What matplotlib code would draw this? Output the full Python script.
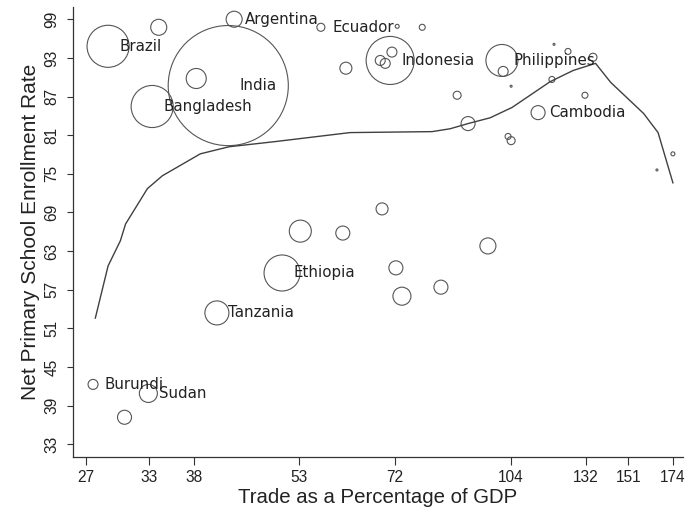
import matplotlib
matplotlib.use("Agg")
import matplotlib.pyplot as plt
import numpy as np

# trade (% of GDP), net primary enrollment (%), population (millions, approx.)
trade = [28.95, 34.0, 43.2, 56.9, 42.4, 38.3, 33.3, 61.6, 53.3, 61.0,
         72.5, 78.5, 70.9, 68.7, 69.8, 71.3, 101.1, 101.5, 104.1, 119.3,
         124.7, 135.0, 118.5, 131.6, 87.7, 113.4, 90.8, 103.1, 104.1, 174.0,
         165.4, 69.1, 50.3, 72.2, 73.6, 83.3, 96.7, 40.9, 27.6, 32.9, 30.5]
enroll = [94.8, 97.75, 99.0, 97.75, 88.7, 89.8, 85.45, 91.4, 66.1, 65.8,
          97.9, 97.75, 92.6, 92.6, 92.15, 93.9, 92.6, 90.9, 88.6, 95.1,
          94.0, 93.1, 89.65, 87.2, 87.2, 84.5, 82.8, 80.8, 80.15, 78.1,
          75.6, 69.55, 59.6, 60.4, 56.0, 57.4, 63.8, 53.4, 42.3, 40.9, 37.2]
pop = [135, 19.6, 19.6, 4.9, 1100, 30.6, 135, 11, 37, 15,
       1.2, 2.75, 176, 7.6, 7.6, 7.6, 78, 7.6, 0.3, 0.3,
       2.75, 4.9, 2.75, 2.75, 4.9, 15, 15, 2.75, 4.9, 1.2,
       0.3, 11, 99, 15, 24.8, 15, 19.6, 44, 7.6, 24.8, 15]
names = ["Brazil", "", "Argentina", "Ecuador", "India", "", "Bangladesh", "", "", "",
         "", "", "Indonesia", "", "", "", "Philippines", "", "", "",
         "", "", "", "", "", "Cambodia", "", "", "", "",
         "", "", "Ethiopia", "", "", "", "", "Tanzania", "Burundi", "Sudan", ""]

# smoothed fit line
fit_x = [27.8, 28.95, 30.1, 30.6, 32.8, 34.4, 38.8, 42.5, 49.2, 62.4, 81.0,
         85.8, 90.8, 97.4, 104.4, 117.8, 126.8, 136.1, 142.8, 158.6, 166.0, 174.0]
fit_y = [52.6, 60.7, 64.6, 67.2, 72.7, 74.7, 78.1, 79.2, 80.0, 81.4, 81.55,
         82.0, 82.8, 83.7, 85.3, 89.3, 91.05, 92.15, 89.2, 84.35, 81.4, 73.6]

xticks = [27, 33, 38, 53, 72, 104, 132, 151, 174]
yticks = [33, 39, 45, 51, 57, 63, 69, 75, 81, 87, 93, 99]

plt.rcParams['font.family'] = ['Liberation Sans', 'DejaVu Sans']

fig = plt.figure(figsize=(6.87, 5.15), dpi=100)
ax = fig.add_axes([0.1063, 0.1135, 0.8877, 0.8729])

ax.scatter(trade, enroll, s=np.array(pop) * 6.8, facecolors='none',
           edgecolors='#555555', linewidths=0.8)
ax.plot(fit_x, fit_y, color='#404040', lw=1.0)

for x, y, n in zip(trade, enroll, names):
    if n:
        ax.annotate(n, (x, y), xytext=(8, 0), textcoords='offset points',
                    ha='left', va='center', fontsize=10.8,
                    family='DejaVu Sans', color='#222222')

ax.set_xscale('log')
ax.set_xlim(25.9, 179.6)
ax.set_ylim(31.1, 100.9)
ax.set_xticks(xticks)
ax.set_xticklabels([str(t) for t in xticks])
ax.xaxis.set_minor_locator(matplotlib.ticker.NullLocator())
ax.set_yticks(yticks)
ax.set_yticklabels([str(t) for t in yticks], rotation=90, va='center')

ax.tick_params(axis='both', labelsize=11.2, width=0.8, color='#333333',
               labelcolor='#222222')
ax.tick_params(axis='x', length=6, pad=3.5)
ax.tick_params(axis='y', length=4, pad=6)
for side in ['top', 'right']:
    ax.spines[side].set_visible(False)
for side in ['left', 'bottom']:
    ax.spines[side].set_linewidth(0.9)
    ax.spines[side].set_color('#333333')

ax.set_xlabel('Trade as a Percentage of GDP', fontsize=14.7, color='#222222', labelpad=2)
ax.set_ylabel('Net Primary School Enrollment Rate', fontsize=15, color='#222222', labelpad=3)

fig.savefig('out.png', dpi=100)
